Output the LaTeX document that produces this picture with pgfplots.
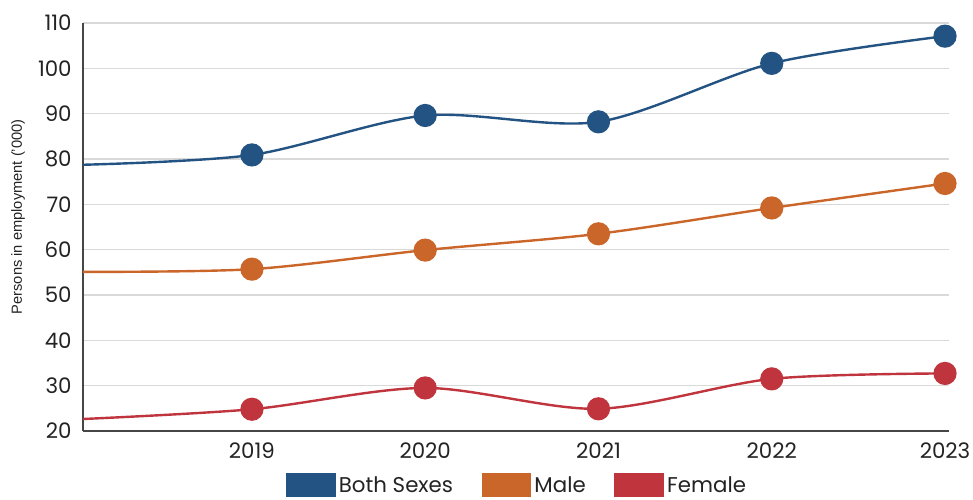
\documentclass[border=0pt]{standalone}
\usepackage{fontspec}
\setmainfont{Poppins}
\newfontfamily\labelfont{Liberation Sans}
\usepackage{pgfplots}
\pgfplotsset{compat=1.18}
\definecolor{cboth}{RGB}{35,83,130}
\definecolor{cmale}{RGB}{203,102,42}
\definecolor{cfemale}{RGB}{191,52,61}
\definecolor{gridgray}{RGB}{217,217,217}
\definecolor{axisgray}{RGB}{70,70,70}
\definecolor{txt}{RGB}{35,35,35}
\begin{document}
\begin{tikzpicture}[x=0.75pt,y=0.75pt]
\begin{axis}[
  at={(0,0)}, anchor=south west,
  scale only axis, width=649.5pt, height=306pt,
  xmin=2018.025, xmax=2023.023, ymin=20, ymax=110,
  axis lines*=left,
  axis line style={color=axisgray, line width=1.1pt},
  xtick={2019,2020,2021,2022,2023},
  xticklabels={2019,2020,2021,2022,2023},
  ytick={20,30,...,110},
  major tick length=0pt,
  ymajorgrids, grid style={color=gridgray, line width=1.1pt},
  tick label style={font=\fontsize{16}{16}\selectfont, color=txt},
  /pgf/number format/assume math mode=true,
  yticklabel style={xshift=-5pt},
  xticklabel style={yshift=-5pt},
  ylabel={\labelfont Persons in employment (’000)},
  ylabel style={font=\fontsize{11}{11}\selectfont, color=txt, at={(axis description cs:-0.075,0.525)}, anchor=center},
  clip=true, clip mode=individual,
  legend columns=3,
  legend style={at={(axis description cs:0.502,-0.133)}, anchor=center, draw=none, fill=none,
    font=\fontsize{16}{16}\selectfont, text=txt,
    nodes={inner xsep=2.5pt, inner ysep=0pt},
    /tikz/every even column/.append style={column sep=19pt}},
  every axis plot/.append style={line width=1.8pt, smooth, tension=0.5, mark=*, mark size=7.8pt},
]
\addlegendimage{legend image code/.code={\fill[cboth] (0pt,-8.25pt) rectangle (35.25pt,8.25pt);}}
\addlegendentry{Both Sexes}
\addlegendimage{legend image code/.code={\fill[cmale] (0pt,-8.25pt) rectangle (35.25pt,8.25pt);}}
\addlegendentry{Male}
\addlegendimage{legend image code/.code={\fill[cfemale] (0pt,-8.25pt) rectangle (35.25pt,8.25pt);}}
\addlegendentry{Female}

\addplot[cboth, mark=none, forget plot] coordinates {(2018,78.7) (2019,80.9) (2020,89.6) (2021,88.2) (2022,101.1) (2023,107.1)};
\addplot[cboth, only marks, forget plot] coordinates {(2019,80.9) (2020,89.6) (2021,88.2) (2022,101.1) (2023,107.1)};
\addplot[cmale, mark=none, forget plot] coordinates {(2018,55.1) (2019,55.7) (2020,59.9) (2021,63.5) (2022,69.2) (2023,74.6)};
\addplot[cmale, only marks, forget plot] coordinates {(2019,55.7) (2020,59.9) (2021,63.5) (2022,69.2) (2023,74.6)};
\addplot[cfemale, mark=none, forget plot] coordinates {(2018,22.6) (2019,24.8) (2020,29.5) (2021,24.9) (2022,31.5) (2023,32.7)};
\addplot[cfemale, only marks, forget plot] coordinates {(2019,24.8) (2020,29.5) (2021,24.9) (2022,31.5) (2023,32.7)};
\end{axis}
\pgfresetboundingbox
\path[use as bounding box] (-83,-68) rectangle (890,431);
\end{tikzpicture}
\end{document}
